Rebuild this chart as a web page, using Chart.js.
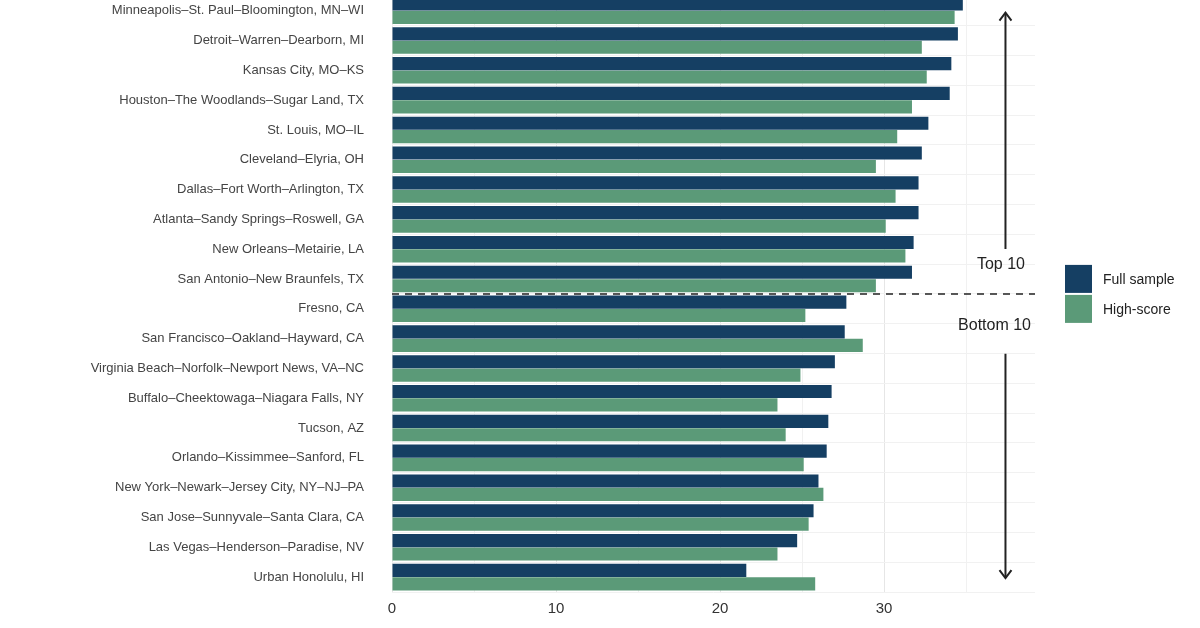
<!DOCTYPE html>
<html><head><meta charset="utf-8">
<script src="https://cdn.jsdelivr.net/npm/chart.js@4"></script>
<style>html,body{margin:0;padding:0;background:#fff;overflow:hidden;width:1200px;height:628px}
#w{position:absolute;left:0;top:-40px;width:1200px;height:720px}</style></head>
<body><div id="w"><canvas id="c"></canvas></div>
<script>
const categories = ["Minneapolis–St. Paul–Bloomington, MN–WI","Detroit–Warren–Dearborn, MI","Kansas City, MO–KS","Houston–The Woodlands–Sugar Land, TX","St. Louis, MO–IL","Cleveland–Elyria, OH","Dallas–Fort Worth–Arlington, TX","Atlanta–Sandy Springs–Roswell, GA","New Orleans–Metairie, LA","San Antonio–New Braunfels, TX","Fresno, CA","San Francisco–Oakland–Hayward, CA","Virginia Beach–Norfolk–Newport News, VA–NC","Buffalo–Cheektowaga–Niagara Falls, NY","Tucson, AZ","Orlando–Kissimmee–Sanford, FL","New York–Newark–Jersey City, NY–NJ–PA","San Jose–Sunnyvale–Santa Clara, CA","Las Vegas–Henderson–Paradise, NV","Urban Honolulu, HI"];
const fullSample = [34.8,34.5,34.1,34.0,32.7,32.3,32.1,32.1,31.8,31.7,27.7,27.6,27.0,26.8,26.6,26.5,26.0,25.7,24.7,21.6];
const highScore = [34.3,32.3,32.6,31.7,30.8,29.5,30.7,30.1,31.3,29.5,25.2,28.7,24.9,23.5,24.0,25.1,26.3,25.4,23.5,25.8];
const xTicks = [0,10,20,30];
const NAVY="#153f63", GREEN="#5b9a78";
const extras = {id:'extras',afterDatasetsDraw(ch){
  const {ctx,scales:{x,y}}=ch; ctx.save();
  const yd=(y.getPixelForValue(9)+y.getPixelForValue(10))/2;
  ctx.strokeStyle="#222";ctx.lineWidth=1.5;ctx.setLineDash([7,6]);
  ctx.beginPath();ctx.moveTo(x.left,yd);ctx.lineTo(x.right,yd);ctx.stroke();ctx.setLineDash([]);
  const ax=x.getPixelForValue(37.4);
  const yt=y.getPixelForValue(0)+2, yb=y.getPixelForValue(19)+1;
  ctx.lineWidth=2;ctx.beginPath();
  ctx.moveTo(ax,yt);ctx.lineTo(ax,y.getPixelForValue(9)-30);
  ctx.moveTo(ax,y.getPixelForValue(10)+45);ctx.lineTo(ax,yb);ctx.stroke();
  ctx.beginPath();ctx.moveTo(ax-6,yt+8);ctx.lineTo(ax,yt);ctx.lineTo(ax+6,yt+8);
  ctx.moveTo(ax-6,yb-8);ctx.lineTo(ax,yb);ctx.lineTo(ax+6,yb-8);ctx.stroke();
  ctx.fillStyle="#222";ctx.font="16px 'Liberation Sans', Arial";ctx.textAlign="right";ctx.textBaseline="middle";
  ctx.fillText("Top 10",x.right-10,yd-29);ctx.fillText("Bottom 10",x.right-4,yd+32);
  ctx.fillStyle=NAVY;ctx.fillRect(1065,yd-29,27,28);
  ctx.fillStyle=GREEN;ctx.fillRect(1065,yd+1,27,28);
  ctx.fillStyle="#222";ctx.font="14px 'Liberation Sans', Arial";ctx.textAlign="left";
  ctx.fillText("Full sample",1103,yd-14);ctx.fillText("High-score",1103,yd+16);
  ctx.restore();}};
new Chart(document.getElementById('c'),{type:'bar',
 data:{labels:categories,datasets:[
  {label:"Full sample",data:fullSample,backgroundColor:NAVY},
  {label:"High-score",data:highScore,backgroundColor:GREEN}]},
 options:{indexAxis:'y',responsive:true,maintainAspectRatio:false,animation:false,
  categoryPercentage:0.9,barPercentage:0.98,
  layout:{padding:{top:30,right:165,bottom:28,left:0}},
  plugins:{legend:{display:false},tooltip:{enabled:false}},
  scales:{
   x:{min:0,max:39.2,afterFit(s){s.height=60;},
     afterBuildTicks(s){s.ticks=[0,5,10,15,20,25,30,35].map(v=>({value:v}));},
     grid:{color:c=>c.tick&&c.tick.value%10===0?"#e6e6e6":"#f1f1f1",drawTicks:false,lineWidth:1},border:{display:false},
     ticks:{padding:8,color:"#333",font:{size:15,family:"'Liberation Sans', Arial"},callback:v=>xTicks.includes(v)?v:""},
     title:{display:true,text:"Percent",color:"#222",font:{size:17,family:"'Liberation Sans', Arial"}}},
   y:{afterFit(s){s.width=392;},grid:{color:"#f1f1f1",drawTicks:false},border:{display:false},
     ticks:{padding:28,color:"#444",font:{size:13,family:"'Liberation Sans', Arial"}}}}},
 plugins:[extras]});
</script></body></html>
